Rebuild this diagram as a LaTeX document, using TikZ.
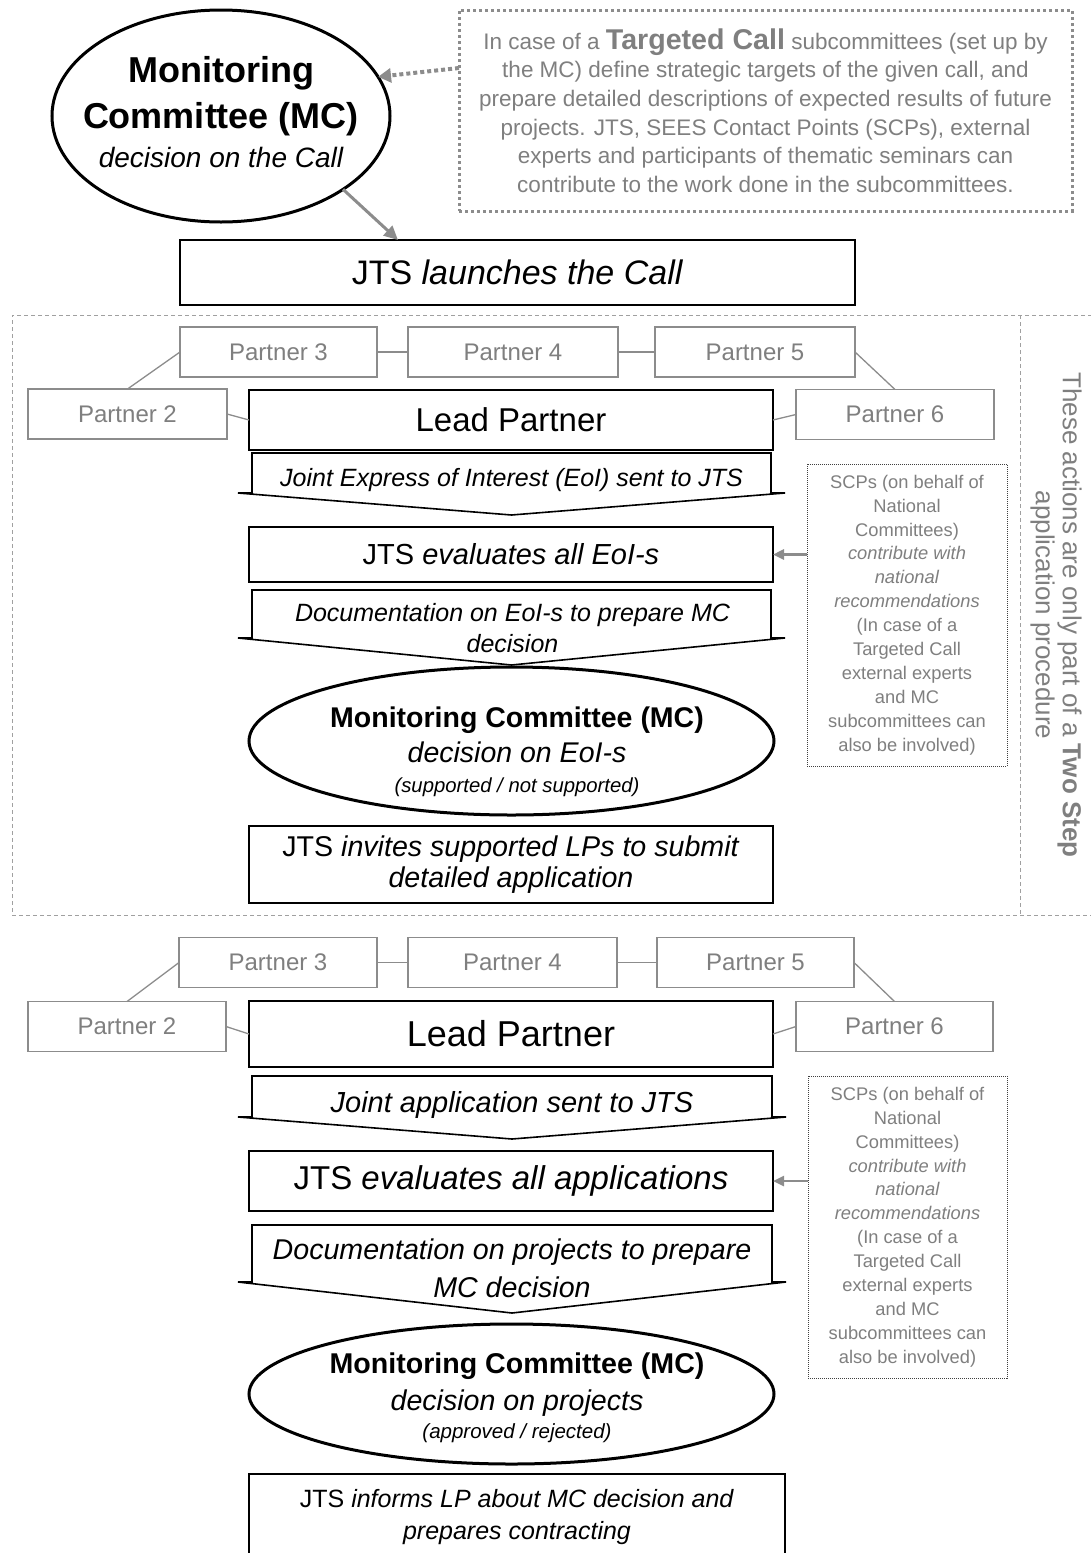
\documentclass[tikz,border=0pt]{standalone}
\usepackage{fontspec}
\setmainfont{Liberation Sans}
\usetikzlibrary{shapes.geometric,arrows.meta,calc}
\definecolor{txtgray}{HTML}{7F7F7F}
\definecolor{lngray}{HTML}{8C8C8C}
\definecolor{dashgray}{HTML}{A0A0A0}
\definecolor{dotdark}{HTML}{404040}
\newcommand\setfs[2]{\fontsize{#1}{#2}\selectfont}
\newcommand\dnarrow[5]{\draw[blkline,fill=white] (#1,#4) -- (#1,#3) -- (#2,#3) -- (#2,#4) -- ({#2+14},#4) -- ({(#1+#2)/2},#5) -- ({#1-14},#4) -- cycle;}
\tikzset{
  blkline/.style={draw=black, line width=1.6pt},
  blkbox/.style={draw=black, line width=1.6pt, fill=white, inner sep=0pt, outer sep=0pt, align=center},
  pbox/.style={draw=lngray, line width=1.5pt, fill=white, text=txtgray, minimum height=50pt, inner sep=0pt, outer sep=0pt, font=\setfs{24}{28}},
  mcell/.style={ellipse, draw=black, line width=3pt, fill=white, inner sep=0pt, outer sep=0pt},
  plink/.style={draw=lngray, line width=1.3pt},
  scpbox/.style={draw=dotdark, dash pattern=on 1pt off 1pt, line width=1pt, fill=white, text=txtgray, inner sep=0pt, outer sep=0pt, align=center, font=\setfs{18.3}{23.9}},
  tgtbox/.style={draw=lngray, dash pattern=on 3pt off 3pt, line width=3pt, fill=white, text=txtgray, inner sep=0pt, outer sep=0pt, align=center, font=\setfs{22.5}{28.6}},
  regline/.style={draw=dashgray, line width=0.9pt, dash pattern=on 4pt off 3pt},
  grayarrow/.style={draw=lngray, line width=3pt, -{Triangle[length=14pt,width=13pt]}},
  scparrow/.style={draw=lngray, line width=2.5pt, -{Triangle[length=11pt,width=10pt]}},
  dotarrow/.style={draw=lngray, line width=4pt, dash pattern=on 4pt off 3pt, -{Triangle[length=13pt,width=14pt]}},
  txtnode/.style={inner sep=0pt, outer sep=0pt, align=center}
}
\begin{document}
\begin{tikzpicture}[x=1pt,y=-1pt]
\useasboundingbox (0,0) rectangle (1090,1553);

% region of the two step procedure
\draw[regline] (1092,315) -- (12,315) -- (12,915) -- (1092,915);
\draw[regline] (1020,315) -- (1020,915);

% top part
\node[mcell, minimum width=338pt, minimum height=212pt] (mc1) at (221,116) {};
\node[txtnode, anchor=north, font=\setfs{28}{39}] (mc1t) at (221,56)
  {{\setfs{36}{36}\bfseries Monitoring}\\[7pt]{\setfs{36}{36}\bfseries Committee (MC)}\\{\itshape decision on the Call}};

\node[tgtbox, minimum width=613pt, minimum height=201pt] (tcbox) at (765.5,110.5)
  {In case of a {\setfs{28.6}{28.6}\bfseries Targeted Call} subcommittees (set up by\\
   the MC) define strategic targets of the given call, and\\
   prepare detailed descriptions of expected results of future\\
   projects. JTS, SEES Contact Points (SCPs), external\\
   experts and participants of thematic seminars can\\
   contribute to the work done in the subcommittees.};

\node[blkbox, minimum width=675pt, minimum height=65pt, font=\setfs{34}{40}] (jts1) at (517.5,272.5)
  {JTS \textit{launches the Call}};

\draw[dotarrow] ([yshift=42.5pt]tcbox.west) -- (mc1.14);
\draw[grayarrow] (mc1.-31) -- ([xshift=-119.5pt]jts1.north);

% ---------- section 1 ----------
\node[pbox, minimum width=197pt] (p3a) at (278.5,352) {Partner 3};
\node[pbox, minimum width=210pt] (p4a) at (513,352) {Partner 4};
\node[pbox, minimum width=200pt] (p5a) at (755,352) {Partner 5};
\node[pbox, minimum width=199pt] (p2a) at (127.5,414) {Partner 2};
\node[pbox, minimum width=198pt] (p6a) at (895,414.5) {Partner 6};
\node[blkbox, minimum width=524pt, minimum height=60pt, font=\setfs{33}{38}] (lpa) at (511,420) {Lead Partner};
\draw[plink] (p2a.north) -- (p3a.west);
\draw[plink] (p3a.east) -- (p4a.west);
\draw[plink] (p4a.east) -- (p5a.west);
\draw[plink] (p5a.east) -- (p6a.north);
\draw[plink] (p2a.east) -- (lpa.west);
\draw[plink] (lpa.east) -- (p6a.west);

\dnarrow{252}{771}{453}{493}{515}
\node[txtnode, anchor=north, font=\setfs{25}{31}\itshape] (eoi) at (511.5,468.7)
  {Joint Express of Interest (EoI) sent to JTS};

\node[blkbox, minimum width=524pt, minimum height=55pt, font=\setfs{29}{34}] (jtsa) at (511,554.5)
  {JTS \textit{evaluates all EoI-s}};

\dnarrow{252}{771}{590}{638}{665}
\node[txtnode, anchor=north, font=\setfs{25}{31}\itshape] (doca) at (512.5,603.8)
  {Documentation on EoI-s to prepare MC\\decision};

\node[mcell, minimum width=525pt, minimum height=148pt] (mc2) at (511.5,741) {};
\node[txtnode, anchor=north, font=\setfs{28.5}{35}] (mc2t) at (517,706.5)
  {{\bfseries Monitoring Committee (MC)}\\{\itshape decision on EoI-s}\\[-5pt]{\setfs{20.3}{24}\itshape (supported / not supported)}};

\node[blkbox, minimum width=524pt, minimum height=77pt, font=\setfs{28.6}{31}] (inva) at (511,864.5)
  {JTS \textit{invites supported LPs to submit}\\\textit{detailed application}};

\node[scpbox, minimum width=200pt, minimum height=302pt] (scpa) at (907,615)
  {SCPs (on behalf of\\National\\Committees)\\\textit{contribute with}\\\textit{national}\\\textit{recommendations}\\(In case of a\\Targeted Call\\external experts\\and MC\\subcommittees can\\also be involved)};
\draw[scparrow] (scpa.west |- jtsa.east) -- (jtsa.east);

\node[txtnode, rotate=-90, text=txtgray, font=\setfs{26}{27}] (twostep) at (1056,615)
  {These actions are only part of a \textbf{Two Step}\\application procedure};

% ---------- section 2 ----------
\node[pbox, minimum width=198pt] (p3b) at (278,962.5) {Partner 3};
\node[pbox, minimum width=209pt] (p4b) at (512.5,962.5) {Partner 4};
\node[pbox, minimum width=197pt] (p5b) at (755.5,962.5) {Partner 5};
\node[pbox, minimum width=198pt] (p2b) at (127,1026.5) {Partner 2};
\node[pbox, minimum width=197pt] (p6b) at (894.5,1026.5) {Partner 6};
\node[blkbox, minimum width=524pt, minimum height=66pt, font=\setfs{36}{40}] (lpb) at (511,1034) {Lead Partner};
\draw[plink] (p2b.north) -- (p3b.west);
\draw[plink] (p3b.east) -- (p4b.west);
\draw[plink] (p4b.east) -- (p5b.west);
\draw[plink] (p5b.east) -- (p6b.north);
\draw[plink] (p2b.east) -- (lpb.west);
\draw[plink] (lpb.east) -- (p6b.west);

\dnarrow{252}{772}{1076}{1117}{1139}
\node[txtnode, anchor=north, font=\setfs{29}{34}\itshape] (jas) at (512,1091.8)
  {Joint application sent to JTS};

\node[blkbox, minimum width=524pt, minimum height=60pt, font=\setfs{33}{38}] (jtsb) at (511,1181)
  {JTS \textit{evaluates all applications}};

\dnarrow{252}{772}{1225}{1282}{1313}
\node[txtnode, anchor=north, font=\setfs{28.6}{38}\itshape] (docb) at (512,1239)
  {Documentation on projects to prepare\\MC decision};

\node[mcell, minimum width=525pt, minimum height=140pt] (mc3) at (511.5,1394) {};
\node[txtnode, anchor=north, font=\setfs{28.6}{37}] (mc3t) at (517,1352.4)
  {{\bfseries Monitoring Committee (MC)}\\{\itshape decision on projects}\\[-9pt]{\setfs{20.5}{24}\itshape (approved / rejected)}};

\node[blkbox, minimum width=536pt, minimum height=86pt, font=\setfs{25}{32}] (infb) at (517,1517)
  {JTS \textit{informs LP about MC decision and}\\\textit{prepares contracting}};

\node[scpbox, minimum width=199pt, minimum height=302pt] (scpb) at (907.5,1227)
  {SCPs (on behalf of\\National\\Committees)\\\textit{contribute with}\\\textit{national}\\\textit{recommendations}\\(In case of a\\Targeted Call\\external experts\\and MC\\subcommittees can\\also be involved)};
\draw[scparrow] (scpb.west |- jtsb.east) -- (jtsb.east);
\end{tikzpicture}
\end{document}
